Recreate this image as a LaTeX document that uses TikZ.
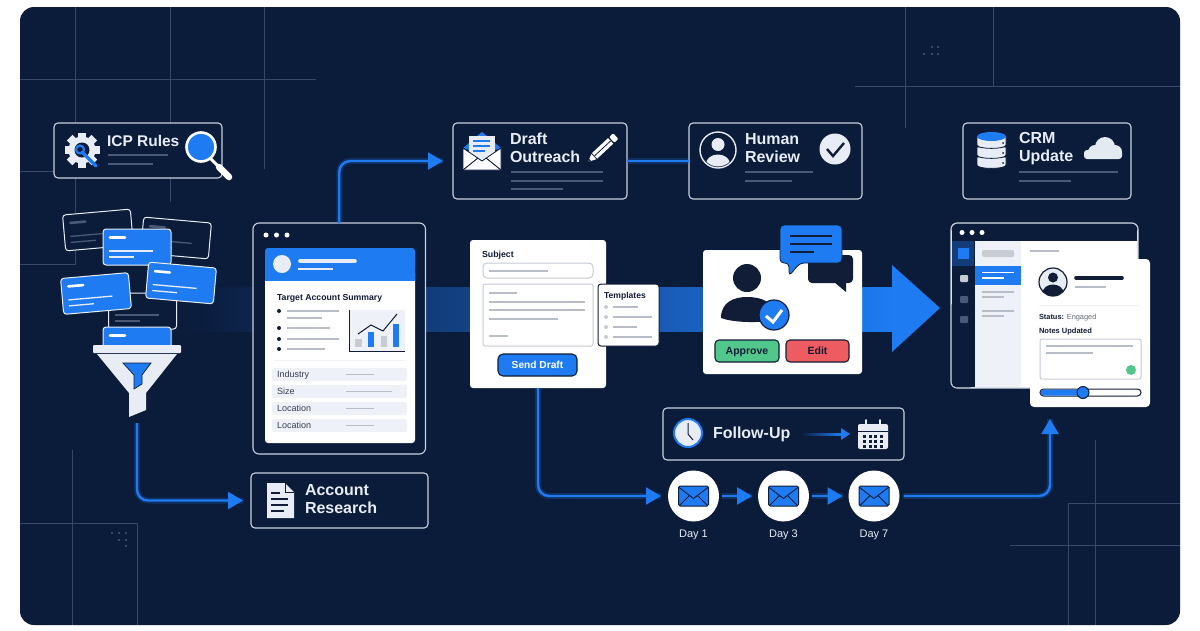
\documentclass[tikz,border=0pt]{standalone}
\usepackage{fontspec}
\setmainfont{Liberation Sans}
\usetikzlibrary{arrows.meta}
\definecolor{navy}{HTML}{0B1B3A}
\definecolor{ink}{HTML}{111C36}
\definecolor{flowblue}{HTML}{1E7BF2}
\definecolor{midblue}{HTML}{1A6AD8}
\definecolor{gridc}{HTML}{36476A}
\definecolor{boxline}{HTML}{C9D1E0}
\definecolor{pale}{HTML}{E8EDF5}
\definecolor{softline}{HTML}{4A5A76}
\definecolor{graybar}{HTML}{B8BEC9}
\definecolor{rowbg}{HTML}{EEF1F7}
\definecolor{fieldline}{HTML}{C6CBD4}
\definecolor{okgreen}{HTML}{52C78B}
\definecolor{editred}{HTML}{EE5B60}
\newcommand\cornerbox[6]{\node[#6] (#1) at ({(#2+#4)/2},{(#3+#5)/2}) [minimum width={#4-#2}, minimum height={#5-#3}] {};}
\newcommand\hln[4]{\draw[#4] (#1,#3) -- (#2,#3);}
\tikzset{
  x=1pt,y=-1pt,
  gridline/.style={draw=gridc,line width=.8pt},
  griddot/.style={fill=gridc!90!white},
  outlinebox/.style={draw=boxline,line width=1.1pt,fill=navy,rounded corners=4pt,inner sep=0,outer sep=0},
  plainbox/.style={inner sep=0,outer sep=0,rounded corners=3pt},
  title/.style={anchor=west,inner sep=0,outer sep=0,align=left,text=pale,font=\bfseries\fontsize{16}{18}\selectfont},
  softbar/.style={draw=softline,line width=1.4pt},
  greybar/.style={draw=graybar,line width=1.5pt},
  darktext/.style={anchor=west,inner sep=0,outer sep=0,text=ink},
  flow/.style={draw=flowblue,line width=2.4pt,rounded corners=11pt,
     -{Triangle[length=15pt,width=17pt]},
     preaction={draw=flowblue,line width=6pt,opacity=.22,-}},
  flatflow/.style={draw=flowblue,line width=2.4pt,
     preaction={draw=flowblue,line width=6pt,opacity=.22}},
  navybut/.style={draw=ink,line width=1.1pt,inner sep=0,outer sep=0,rounded corners=4pt},
  daycircle/.style={circle,fill=white,minimum size=51pt,inner sep=0,outer sep=0},
  daylabel/.style={anchor=base,inner sep=0,outer sep=0,text=pale,font=\fontsize{11}{13}\selectfont},
}
\newcommand\bizcard[4]{%
  \begin{scope}[shift={(#1,#2)},rotate=#3]
  \ifnum#4=1
    \draw[fill=flowblue,draw=pale,line width=1pt,rounded corners=3pt] (-34,-18) rectangle (34,18);
    \draw[white,line width=2.6pt,line cap=round] (-27,-9.5) -- (-12,-9.5);
    \draw[pale,line width=1.3pt] (-28,4) -- (16,4);
    \draw[pale,line width=1.3pt] (-28,10) -- (-3,10);
  \else
    \draw[fill=navy,draw=pale,line width=1pt,rounded corners=3pt] (-34,-18) rectangle (34,18);
    \draw[softline,line width=2.6pt,line cap=round] (-27,-9.5) -- (-12,-9.5);
    \draw[softline,line width=1.3pt] (-28,4) -- (16,4);
    \draw[softline,line width=1.3pt] (-28,10) -- (-3,10);
  \fi
  \end{scope}}
\begin{document}
\begin{tikzpicture}
\useasboundingbox (0,0) rectangle (1200,630);
\fill[white] (0,0) rectangle (1200,630);
\fill[navy,rounded corners=14pt] (20,7) rectangle (1180,625);
% background grid
\draw[gridline] (75,7) -- (75,265) (20,264) -- (75,264) (170,7) -- (170,202) (264,7) -- (264,169)
  (20,79) -- (316,79) (20,171) -- (54,171);
\draw[gridline] (72,450) -- (72,624.5) (20,523) -- (137,523) -- (137,624.5);
\draw[gridline] (905,7) -- (905,128) (993,7) -- (993,86) (855,86) -- (1180,86);
\draw[gridline] (1095,440) -- (1095,624.5) (1180,503) -- (1068,503) -- (1068,624.5) (1010,545) -- (1180,545);
\foreach \p in {(112,533),(119,533),(126,533),(119,540),(126,540),(126,546),
                (924,54),(932,54),(938,54),(932,47),(938,47)} \fill[griddot] \p circle (1.2);
% central band
\shade[left color=navy,middle color=midblue,right color=flowblue] (185,287) rectangle (895,331);
\fill[flowblue] (892,265) -- (940,308) -- (892,352) -- cycle;

% ---------- ICP Rules
\cornerbox{icp}{54}{123}{222}{178}{outlinebox}
\foreach \a in {0,45,...,315} \fill[pale,rotate around={\a:(82,150)}] (78,132.5) rectangle (86,140);
\fill[pale] (82,150) circle (13.5);
\fill[navy] (82,150) circle (7.5);
\draw[flowblue,line width=3.2pt,line cap=round] (82,152) -- (96,166);
\draw[flowblue,line width=2.2pt] (80,149.5) circle (4);
\node[title,font=\bfseries\fontsize{15.5}{18}\selectfont] (icptext) at (107,141) {ICP Rules};
\hln{108}{168}{155}{softbar}
\hln{108}{153}{164}{softbar}
\draw[white,line width=3pt] (210,158) -- (219,167);
\draw[white,line width=6.5pt,line cap=round] (219,167) -- (229,177);
\draw[white,line width=2.6pt,fill=flowblue] (201,147) circle (14.5);

% ---------- stack of cards and funnel
\bizcard{98}{230}{5}{0}
\bizcard{176}{238}{-5}{0}
\bizcard{137}{247}{0}{1}
\bizcard{142.5}{311}{0}{0}
\bizcard{181}{283}{-5}{1}
\bizcard{96}{293.5}{5}{1}
\begin{scope}
  \clip (90,320) rectangle (185,345);
  \bizcard{137}{345}{0}{1}
\end{scope}
\fill[pale,rounded corners=1pt] (93,345) rectangle (181,353);
\fill[pale] (97,354) -- (177,354) -- (146,393) -- (146,410) -- (129,417) -- (129,393) -- cycle;
\fill[flowblue,draw=ink,line width=.7pt] (123,363) -- (151,363) -- (142,375) -- (142,384) -- (134,389) -- (134,375) -- cycle;
\coordinate (funnelout) at (137,423);

% ---------- account summary window
\cornerbox{summary}{253}{223}{425.5}{454}{outlinebox,rounded corners=6pt}
\foreach \x in {266,276.5,287} \fill[white] (\x,235) circle (2.5);
\fill[white,rounded corners=3pt] (265,270) rectangle (415,443);
\fill[flowblue,rounded corners=3pt] (265,248) rectangle (415,270);
\fill[flowblue] (265,262) rectangle (415,281);
\fill[pale] (282,264) circle (9);
\draw[pale,line width=3.6pt,line cap=round] (300,261) -- (355,261);
\draw[pale,line width=1.8pt] (298,269) -- (333,269);
\node[darktext,font=\bfseries\fontsize{8.7}{10}\selectfont] (sumtitle) at (277,298) {Target Account Summary};
\foreach \y in {311,328,339,349} \fill[ink] (279,\y) circle (2);
\hln{287}{339}{311}{greybar}
\hln{287}{322}{318}{greybar}
\hln{287}{330}{328}{greybar}
\hln{287}{339}{339}{greybar}
\hln{287}{325}{349}{greybar}
\fill[rowbg] (349,310) rectangle (405,351);
\fill[fieldline] (355,339) rectangle (362,347);
\fill[flowblue] (368,332) rectangle (374,347);
\fill[fieldline] (381,336) rectangle (387,347);
\fill[flowblue] (393,324) rectangle (399,347);
\draw[ink,line width=1pt] (349,310) -- (349,351) -- (405,351);
\draw[ink,line width=1pt] (358,334) -- (371,325) -- (383,331) -- (397,314);
\hln{274}{405}{360}{draw=rowbg,line width=.9pt}
\foreach \y/\t/\e in {374.5/Industry/374,391.5/Size/392,408.5/Location/374,425.5/Location/374}{
  \fill[rowbg,rounded corners=2pt] (272,\y-6.5) rectangle (407,\y+6.5);
  \node[anchor=base west,inner sep=0,outer sep=0,text=ink!85!white,font=\fontsize{9}{11}\selectfont] at (277,\y+3.2) {\t};
  \draw[greybar] (346,\y) -- (\e,\y);
}

% ---------- account research
\cornerbox{accres}{251}{473}{428}{528}{outlinebox}
\fill[pale] (267,483) -- (285,483) -- (294,492) -- (294,518) -- (267,518) -- cycle;
\draw[navy,line width=1pt] (285,483) -- (285,492) -- (294,492);
\foreach \y/\e in {493/280,499/288,505/288,511/284} \draw[ink,line width=1.2pt] (271,\y) -- (\e,\y);
\node[title] (acctext) at (305,499.5) {Account\\Research};

% ---------- draft outreach
\cornerbox{draft}{453}{123}{627}{199}{outlinebox}
\fill[flowblue] (477,136) -- (482,132) -- (487,136) -- cycle;
\fill[flowblue] (463,148) -- (469,143) -- (469,150) -- cycle;
\fill[flowblue] (501,148) -- (495,143) -- (495,150) -- cycle;
\fill[pale] (469,136) rectangle (495,160);
\foreach \y/\e in {141/490,146/490,151/485} \draw[flowblue,line width=1.1pt] (473,\y) -- (\e,\y);
\fill[white,draw=navy,line width=.8pt] (463,148) -- (482,161) -- (501,148) -- (501,170) -- (463,170) -- cycle;
\draw[navy,line width=.9pt] (463,170) -- (478,158) (501,170) -- (486,158);
\node[title] (drafttext) at (510,148) {Draft\\Outreach};
\begin{scope}[shift={(588,162)},rotate=43]
  \fill[white] (0,0) -- (8,-3.6) -- (8,3.6) -- cycle;
  \fill[navy] (0,0) -- (3,-1.4) -- (3,1.4) -- cycle;
  \fill[white] (9,-3.8) rectangle (31,3.8);
  \draw[navy,line width=.8pt] (9,0) -- (31,0);
  \fill[white,rounded corners=1pt] (32.5,-3.8) rectangle (38,3.8);
\end{scope}
\hln{511}{603}{172}{softbar}
\hln{511}{603}{181}{softbar}
\hln{511}{563}{189}{softbar}

% ---------- human review
\cornerbox{review}{689}{123}{862}{199}{outlinebox}
\draw[pale,line width=1.4pt] (718,150) circle (18);
\begin{scope}
  \clip (718,150) circle (16.5);
  \fill[pale] (718,164) ellipse (12 and 9.5);
\end{scope}
\fill[pale] (718,144.5) circle (6.5);
\node[title] (reviewtext) at (745,148) {Human\\Review};
\fill[pale] (835,149) circle (15.5);
\draw[ink,line width=2.4pt] (827,149) -- (833,156) -- (844,143);
\hln{745}{813}{172}{softbar}
\hln{745}{792}{181}{softbar}

% ---------- CRM update
\cornerbox{crm}{963}{123}{1131}{199}{outlinebox}
\foreach \t in {157,147,137}{
  \fill[pale,draw=navy,line width=.8pt] (977,\t) -- (977,\t+8) .. controls (977,\t+12.5) and (1006,\t+12.5) .. (1006,\t+8) -- (1006,\t) -- cycle;
  \fill[ink] (1003,\t+6) circle (1);
}
\fill[flowblue] (991.5,136.5) ellipse (14.5 and 4.5);
\node[title] (crmtext) at (1019,149) {CRM\\Update};
\fill[pale!90!fieldline] (1095,152) circle (7) (1105,147) circle (10) (1115,152) circle (7);
\fill[pale!90!fieldline,rounded corners=3pt] (1084,150) rectangle (1122,159);
\hln{1019}{1118}{172}{softbar}
\hln{1019}{1071}{181}{softbar}

% ---------- composer
\cornerbox{composer}{470}{240}{606}{388}{plainbox,fill=white}
\node[darktext,font=\bfseries\fontsize{8.8}{10}\selectfont] (subjectlabel) at (482,255) {Subject};
\draw[fieldline,line width=1pt,rounded corners=4pt] (483,263) rectangle (593,278);
\hln{489}{548}{271}{greybar}
\draw[fieldline,line width=1pt,rounded corners=2pt] (483,284) rectangle (593,346);
\hln{489}{517}{293}{greybar}
\hln{489}{585}{302}{greybar}
\hln{489}{585}{310}{greybar}
\hln{489}{558}{319}{greybar}
\hln{489}{508}{336}{greybar}
\cornerbox{sendbtn}{498}{354}{577}{376}{navybut,fill=flowblue,rounded corners=5pt}
\node[inner sep=0,text=white,font=\bfseries\fontsize{10.2}{12}\selectfont] (sendtext) at (sendbtn) {Send Draft};
\cornerbox{templates}{598}{284}{659}{346}{plainbox,fill=white,draw=ink,line width=1pt}
\node[darktext,font=\bfseries\fontsize{8.6}{10}\selectfont] (templatetext) at (604,296) {Templates};
\foreach \y/\e in {307/638,317/652,327/637,337/652}{
  \fill[fieldline] (606,\y) circle (2);
  \draw[greybar] (613,\y) -- (\e,\y);
}

% ---------- review card
\cornerbox{reviewcard}{703}{250}{862}{374}{plainbox,fill=white}
\fill[ink] (747,278) circle (14);
\fill[ink] (721,318) .. controls (721,302) and (734,297) .. (747,297) .. controls (762,297) and (776,302) .. (776,320) .. controls (760,323) and (735,323) .. (721,318) -- cycle;
\fill[flowblue,draw=ink,line width=1.2pt] (774,315) circle (15);
\draw[white,line width=3pt] (766,316) -- (773,322) -- (782,310);
\fill[ink,rounded corners=4pt] (808,255) rectangle (853,283);
\fill[ink] (834,282) -- (846,282) -- (846,292) -- cycle;
\fill[flowblue,draw=navy,line width=.8pt,rounded corners=4pt] (780,225) -- (842,225) -- (842,263) -- (800,263) -- (789,276) -- (789,263) -- (780,263) -- cycle;
\hln{790}{832}{236}{ink,line width=1.1pt}
\hln{790}{832}{244}{ink,line width=1.1pt}
\hln{790}{814}{252}{ink,line width=1.1pt}
\cornerbox{approve}{715}{340}{779}{362}{navybut,fill=okgreen}
\node[anchor=base,inner sep=0,text=ink,font=\bfseries\fontsize{10.5}{12}\selectfont] (approvetext) at (747,354.8) {Approve};
\cornerbox{editbtn}{786}{340}{849}{362}{navybut,fill=editred}
\node[anchor=base,inner sep=0,text=ink,font=\bfseries\fontsize{10.5}{12}\selectfont] (edittext) at (817.5,354.8) {Edit};

% ---------- CRM window
\cornerbox{crmwin}{951}{223}{1138}{388}{outlinebox,fill=white,rounded corners=6pt}
\fill[navy,rounded corners=6pt] (951.6,223.6) rectangle (1137.4,235);
\fill[navy] (951.6,230) rectangle (1137.4,241);
\fill[navy,rounded corners=5pt] (951.6,300) rectangle (975,387.4);
\fill[navy] (951.6,241) rectangle (975,310);
\fill[navy] (960,375) rectangle (975,387.4);
\fill[rowbg] (975,241) rectangle (1021,387.4);
\foreach \x in {962,972,982} \fill[white] (\x,232.5) circle (2.5);
\fill[flowblue!35!navy] (952,241) rectangle (974,266);
\fill[flowblue] (958,248) rectangle (969,259);
\fill[fieldline,rounded corners=1pt] (960,275) rectangle (968,282);
\fill[softline,rounded corners=1pt] (960,296) rectangle (968,303);
\fill[softline,rounded corners=1pt] (960,316) rectangle (968,323);
\fill[fieldline,rounded corners=1.5pt] (982,250) rectangle (1014,257);
\fill[flowblue] (975,266) rectangle (1021,285);
\hln{982}{1014}{272.5}{white,line width=1.2pt}
\hln{982}{1004}{278}{white,line width=1.2pt}
\hln{982}{1014}{292}{greybar}
\hln{982}{1004}{297}{greybar}
\hln{982}{1014}{311}{greybar}
\hln{982}{1004}{316}{greybar}
\hln{1030}{1059}{251}{greybar}
\cornerbox{crmcard}{1030}{259}{1150}{407}{plainbox,rounded corners=4pt,fill=white}
\coordinate (crmin) at (1050,419);
\begin{scope}
  \clip (1053,282) circle (14);
  \fill[pale] (1053,282) circle (14);
  \fill[ink] (1053,277.5) circle (5);
  \fill[ink] (1053,293) ellipse (10.5 and 8.5);
\end{scope}
\draw[ink,line width=1.2pt] (1053,282) circle (14);
\draw[ink,line width=3.6pt,line cap=round] (1076,278) -- (1122,278);
\hln{1075}{1106}{287}{greybar}
\hln{1039}{1141}{305}{draw=rowbg,line width=1pt}
\node[darktext,font=\fontsize{7.4}{10}\selectfont] (statustext) at (1039,318) {\textbf{Status:} \textcolor{ink!65!white}{Engaged}};
\node[darktext,font=\bfseries\fontsize{7.5}{10}\selectfont] (notestext) at (1039,332) {Notes Updated};
\draw[fieldline,line width=1pt,rounded corners=2pt] (1040,339) rectangle (1141,379);
\hln{1046}{1133}{346}{greybar}
\hln{1046}{1093}{353}{greybar}
\fill[okgreen] (1131,370) circle (5);
\draw[ink,line width=1pt,fill=white,rounded corners=3.5pt] (1040,389) rectangle (1141,396);
\fill[flowblue,rounded corners=3pt] (1040.5,389.5) rectangle (1083,395.5);
\fill[flowblue,draw=ink,line width=1pt] (1083,392.5) circle (6);

% ---------- follow-up
\cornerbox{followup}{663}{408}{904}{460}{outlinebox}
\fill[pale,draw=flowblue,line width=2pt] (688,433) circle (14);
\draw[ink,line width=1pt] (688,423) -- (688,434) -- (693,440);
\node[title] (followtext) at (713,434) {Follow-Up};
\shade[left color=navy,right color=flowblue] (801,433) rectangle (841,435.5);
\fill[flowblue] (841,428) -- (850,434) -- (841,440) -- cycle;
\fill[pale,rounded corners=2pt] (858,424) rectangle (888,449);
\draw[navy,line width=.8pt] (858,431) -- (888,431);
\draw[pale,line width=2pt,line cap=round] (866,420) -- (866,425) (880,420) -- (880,425);
\foreach \y in {435,440,445} \foreach \x in {863,868.5,874,879.5} \fill[ink] (\x,\y) rectangle +(3,3);

% ---------- day circles
\foreach \n/\x/\t in {1/693.5/Day 1,3/783.5/Day 3,7/874/Day 7}{
  \node[daycircle] (day\n) at (\x,496) {};
  \node[daylabel] (daylabel\n) at (\x,537) {\t};
  \begin{scope}[shift={(\x,496)}]
    \draw[fill=flowblue,draw=ink,line width=1pt,rounded corners=1.5pt] (-15,-10) rectangle (15,10);
    \draw[ink,line width=.9pt] (-15,-9) -- (0,2.5) -- (15,-9) (-14,9.5) -- (-4,-0.5) (14,9.5) -- (4,-0.5);
  \end{scope}
}

% ---------- connectors
\draw[flow,shorten >=8pt] (funnelout) |- (accres.west);
\draw[flow,shorten >=10pt] (summary.north) |- (draft.west);
\draw[flatflow] (draft.east) -- (review.west);
\draw[flow,shorten >=7pt] (composer.south) |- (day1.west);
\draw[flow,shorten <=3pt,shorten >=6pt] (day1.east) -- (day3.west);
\draw[flow,shorten <=3pt,shorten >=6pt] (day3.east) -- (day7.west);
\draw[flow,shorten <=4pt] (day7.east) -| (crmin);
\end{tikzpicture}
\end{document}
